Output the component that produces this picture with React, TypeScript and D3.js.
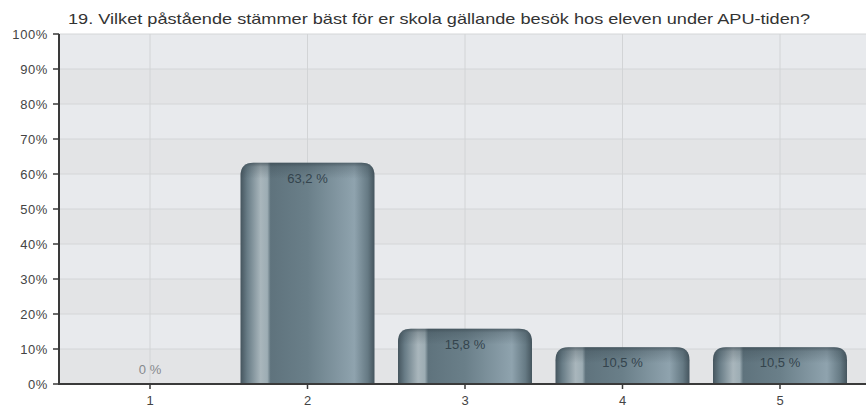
import * as d3 from 'd3'
import React from 'react'

const title = '19. Vilket påstående stämmer bäst för er skola gällande besök hos eleven under APU-tiden?'
const categories = ['1', '2', '3', '4', '5']
const values = [0, 63.2, 15.8, 10.5, 10.5]
const valueLabels = ['0 %', '63,2 %', '15,8 %', '10,5 %', '10,5 %']
const yTicks = [0, 10, 20, 30, 40, 50, 60, 70, 80, 90, 100]

const W = 866
const H = 408
const left = 59
const right = 866
const top = 34
const bottom = 384
const barW = 134
const rad = 13

function barPath(x0: number, y0: number, w: number, y1: number, r: number) {
  const rr = Math.min(r, (y1 - y0), w / 2)
  const p = d3.path()
  p.moveTo(x0, y1)
  p.lineTo(x0, y0 + rr)
  p.quadraticCurveTo(x0, y0, x0 + rr, y0)
  p.lineTo(x0 + w - rr, y0)
  p.quadraticCurveTo(x0 + w, y0, x0 + w, y0 + rr)
  p.lineTo(x0 + w, y1)
  p.closePath()
  return p.toString()
}

export default function App() {
  const x = d3.scalePoint<string>().domain(categories).range([150, 780])
  const y = d3.scaleLinear().domain([0, 100]).range([bottom, top])
  const font = 'Liberation Sans, Arial, sans-serif'

  return (
    <div style={{ position: 'absolute', left: 0, top: 0 }}>
      <svg width={W} height={H} style={{ display: 'block', fontFamily: font }}>
        <defs>
          <linearGradient id="cyl" x1="0" x2="1" y1="0" y2="0">
            <stop offset="0" stopColor="#45555e" />
            <stop offset="0.05" stopColor="#687c86" />
            <stop offset="0.15" stopColor="#a9b6bc" />
            <stop offset="0.2" stopColor="#9dadb4" />
            <stop offset="0.225" stopColor="#5f737d" />
            <stop offset="0.5" stopColor="#6a7f89" />
            <stop offset="0.85" stopColor="#8fa3ae" />
            <stop offset="0.95" stopColor="#667a84" />
            <stop offset="1" stopColor="#45555e" />
          </linearGradient>
          <linearGradient id="cap" x1="0" x2="0" y1="0" y2="1">
            <stop offset="0" stopColor="#2f3d45" stopOpacity="0.6" />
            <stop offset="0.25" stopColor="#2f3d45" stopOpacity="0.25" />
            <stop offset="1" stopColor="#2f3d45" stopOpacity="0" />
          </linearGradient>
        </defs>

        {yTicks.slice(0, -1).map((t, i) => (
          <rect key={'band' + t} x={left} y={y(t + 10)} width={right - left} height={y(t) - y(t + 10)}
            fill={i % 2 === 0 ? '#e3e4e6' : '#e8eaed'} />
        ))}
        {yTicks.map(t => (
          <line key={'g' + t} x1={left} x2={right} y1={y(t)} y2={y(t)} stroke="#d4d6d8" strokeWidth={1} />
        ))}
        {categories.map(c => (
          <line key={'vg' + c} x1={x(c)} x2={x(c)} y1={top} y2={bottom} stroke="#d2d4d6" strokeWidth={1} />
        ))}

        {categories.map((c, i) => {
          const v = values[i]
          const cx = x(c) as number
          if (v <= 0) return null
          const y0 = y(v)
          const d = barPath(cx - barW / 2, y0, barW, bottom, rad)
          return (
            <g key={'b' + c}>
              <path d={d} fill="url(#cyl)" />
              <path d={barPath(cx - barW / 2, y0, barW, y0 + 16, rad)} fill="url(#cap)" />
            </g>
          )
        })}

        {categories.map((c, i) => {
          const v = values[i]
          const cx = x(c) as number
          const ly = v > 0 ? y(v) + 20 : bottom - 10
          return (
            <text key={'l' + c} x={cx} y={ly} textAnchor="middle" fontSize={13}
              fill={v > 0 ? '#34444d' : '#85898d'}>{valueLabels[i]}</text>
          )
        })}

        <line x1={left} x2={left} y1={top} y2={bottom + 1} stroke="#3a3a3a" strokeWidth={2} />
        <line x1={left} x2={right} y1={bottom} y2={bottom} stroke="#3a3a3a" strokeWidth={2} />
        {yTicks.map(t => (
          <g key={'yt' + t}>
            <line x1={left - 6} x2={left} y1={y(t)} y2={y(t)} stroke="#3a3a3a" strokeWidth={1.5} />
            <text x={left - 11} y={y(t) + 5} textAnchor="end" fontSize={13} letterSpacing={0.6} fill="#444">{t}%</text>
          </g>
        ))}
        {categories.map(c => (
          <g key={'xt' + c}>
            <line x1={x(c)} x2={x(c)} y1={bottom} y2={bottom + 5} stroke="#3a3a3a" strokeWidth={1.5} />
            <text x={x(c)} y={bottom + 21} textAnchor="middle" fontSize={13} fill="#444">{c}</text>
          </g>
        ))}

        <text x={68} y={24} fontSize={15} textLength={742} lengthAdjust="spacingAndGlyphs" fill="#333">{title}</text>
      </svg>
    </div>
  )
}
